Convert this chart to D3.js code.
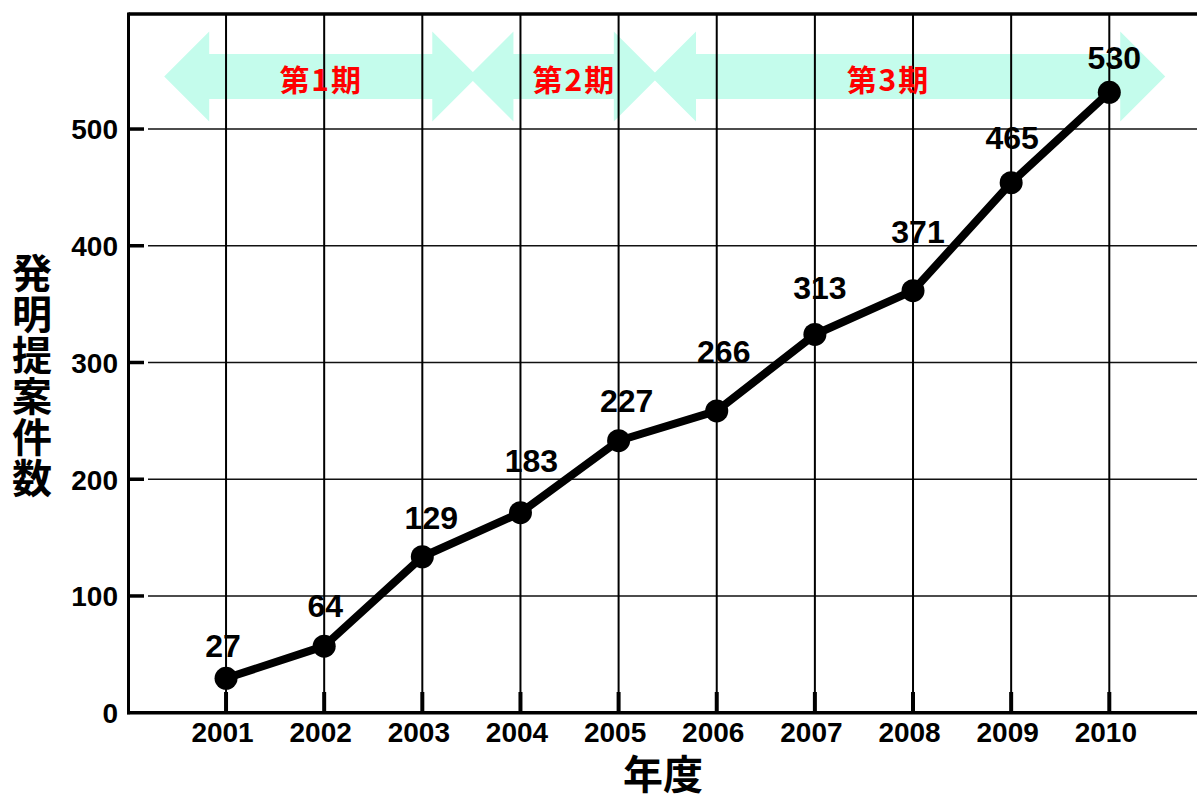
<!DOCTYPE html>
<html>
<head>
<meta charset="utf-8">
<script src="https://cdn.jsdelivr.net/npm/d3@7/dist/d3.min.js"></script>
<style>
  html, body { margin: 0; padding: 0; background: #fff; }
  svg { display: block; }
</style>
</head>
<body>
<svg id="chart" width="1197" height="796"></svg>
<script>
// ---- data ----
const years = [2001, 2002, 2003, 2004, 2005, 2006, 2007, 2008, 2009, 2010];
const plottedValues = [29.5, 57, 133.6, 171.3, 233, 258.5, 324, 361.5, 454, 531.5];
const labelTexts = ["27", "64", "129", "183", "227", "266", "313", "371", "465", "530"];
const yTickValues = [0, 100, 200, 300, 400, 500];
const periodNames = ["第1期", "第2期", "第3期"];
const periodStart = [2000.37, 2003.47, 2005.33];
const periodEnd = [2003.56, 2005.41, 2010.57];
const periodLabelAt = [2001.97, 2004.55, 2007.75];
const yTitle = "発明提案件数";
const xTitle = "年度";

// ---- layout (label nudges, px) ----
const labelDx = [-3, 1, 9, 11, 8, 7, 5, 5, 1, 5];
const labelDy = [-21, -29, -28, -41, -29, -48, -35, -48, -34, -23];

const W = 1197, H = 796;
const plotLeft = 128.5, plotBottom = 712.7, plotTop = 13.5;
const svg = d3.select("#chart");

const x = d3.scaleLinear().domain([2000, 2010]).range([127.9, 1109.3]);
const y = d3.scaleLinear().domain([0, 600]).range([712.7, 12.3]);

const numFont = "'Liberation Sans', Arial, sans-serif";
const cjkFont = "'Noto Sans CJK JP', 'Noto Sans CJK SC', sans-serif";

// ---- period arrows ----
const arrowCy = 76.5, headH = 45, shaftH = 22.5, headL = 45;
const arrows = svg.append("g");
periodNames.forEach((name, i) => {
  const x0 = x(periodStart[i]), x1 = x(periodEnd[i]);
  const p = [
    [x0, arrowCy], [x0 + headL, arrowCy - headH], [x0 + headL, arrowCy - shaftH],
    [x1 - headL, arrowCy - shaftH], [x1 - headL, arrowCy - headH], [x1, arrowCy],
    [x1 - headL, arrowCy + headH], [x1 - headL, arrowCy + shaftH],
    [x0 + headL, arrowCy + shaftH], [x0 + headL, arrowCy + headH]
  ];
  arrows.append("polygon")
    .attr("points", p.map(q => q.join(",")).join(" "))
    .attr("fill", "#c4fcec");
});

// ---- grid ----
const grid = svg.append("g");
grid.selectAll("line.h").data(yTickValues.filter(v => v > 0)).join("line")
  .attr("x1", 148).attr("x2", W)
  .attr("y1", d => y(d)).attr("y2", d => y(d))
  .attr("stroke", "#111").attr("stroke-width", 1.6);
grid.selectAll("line.v").data(years).join("line")
  .attr("x1", d => x(d)).attr("x2", d => x(d))
  .attr("y1", plotTop).attr("y2", plotBottom)
  .attr("stroke", "#000").attr("stroke-width", 2);

// period labels
periodNames.forEach((name, i) => {
  svg.append("text")
    .attr("x", x(periodLabelAt[i])).attr("y", 78)
    .attr("text-anchor", "middle").attr("dominant-baseline", "central")
    .attr("font-family", cjkFont).attr("font-weight", "bold")
    .attr("font-size", 30).attr("letter-spacing", 2)
    .attr("fill", "#ff0000")
    .text(name);
});

// ---- axes frame ----
const frame = svg.append("g").attr("stroke", "#000");
frame.append("line").attr("x1", plotLeft).attr("x2", W).attr("y1", plotTop + 0.5).attr("y2", plotTop + 0.5).attr("stroke-width", 3.5);
frame.append("line").attr("x1", plotLeft).attr("x2", plotLeft).attr("y1", plotTop - 1).attr("y2", plotBottom + 1.5).attr("stroke-width", 3);
frame.append("line").attr("x1", plotLeft - 1.5).attr("x2", W).attr("y1", plotBottom).attr("y2", plotBottom).attr("stroke-width", 3.5);
frame.selectAll("line.yt").data(yTickValues.filter(v => v > 0)).join("line")
  .attr("x1", plotLeft).attr("x2", 144)
  .attr("y1", d => y(d)).attr("y2", d => y(d))
  .attr("stroke-width", 3.5);
frame.selectAll("line.xt").data(years).join("line")
  .attr("x1", d => x(d)).attr("x2", d => x(d))
  .attr("y1", 692).attr("y2", plotBottom)
  .attr("stroke-width", 4);

// ---- axis labels via d3 axes ----
const yAxis = d3.axisLeft(y).tickValues(yTickValues).tickSize(0).tickPadding(0).tickFormat(d3.format("d"));
const gy = svg.append("g").attr("transform", "translate(118,0)").call(yAxis);
gy.select(".domain").remove();
gy.selectAll("text").attr("font-family", numFont).attr("font-weight", "bold")
  .attr("font-size", 28).attr("fill", "#000").attr("dy", "0.35em");

const xAxis = d3.axisBottom(x).tickValues(years).tickSize(0).tickPadding(0).tickFormat(d3.format("d"));
const gx = svg.append("g").attr("transform", "translate(-4,0)").call(xAxis);
gx.select(".domain").remove();
gx.selectAll("text").attr("font-family", numFont).attr("font-weight", "bold")
  .attr("font-size", 28).attr("fill", "#000").attr("y", 742).attr("dy", 0);

// ---- titles ----
svg.append("text")
  .attr("x", 663).attr("y", 789).attr("text-anchor", "middle")
  .attr("font-family", cjkFont).attr("font-weight", "bold").attr("font-size", 40)
  .attr("fill", "#000").text(xTitle);
svg.append("text")
  .attr("x", 32).attr("y", 253)
  .attr("text-anchor", "start")
  .style("writing-mode", "vertical-rl")
  .style("text-orientation", "upright")
  .attr("letter-spacing", 1)
  .attr("font-family", cjkFont).attr("font-weight", "bold").attr("font-size", 40)
  .attr("fill", "#000").text(yTitle);

// ---- series ----
const pts = years.map((yr, i) => ({ yr, v: plottedValues[i], label: labelTexts[i], i }));
svg.append("path").datum(pts)
  .attr("d", d3.line().x(d => x(d.yr)).y(d => y(d.v)))
  .attr("fill", "none").attr("stroke", "#000").attr("stroke-width", 8)
  .attr("stroke-linejoin", "round");
svg.append("g").selectAll("circle").data(pts).join("circle")
  .attr("cx", d => x(d.yr)).attr("cy", d => y(d.v)).attr("r", 11.5).attr("fill", "#000");
svg.append("g").selectAll("text").data(pts).join("text")
  .attr("x", d => x(d.yr) + labelDx[d.i]).attr("y", d => y(d.v) + labelDy[d.i])
  .attr("text-anchor", "middle")
  .attr("font-family", numFont).attr("font-weight", "bold").attr("font-size", 32)
  .attr("fill", "#000").text(d => d.label);
</script>
</body>
</html>
